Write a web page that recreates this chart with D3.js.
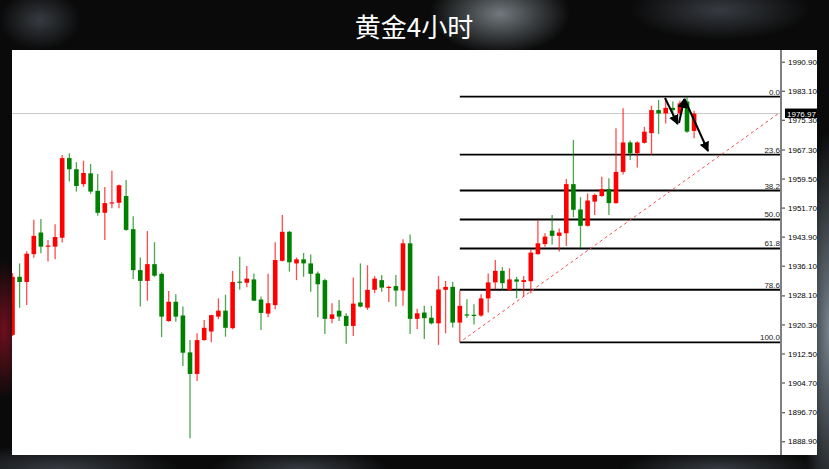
<!DOCTYPE html>
<html><head><meta charset="utf-8">
<script src="https://cdn.jsdelivr.net/npm/d3@7"></script>
<style>html,body{margin:0;padding:0;background:#0b0b0b;overflow:hidden}</style>
</head><body><svg id="c" width="829" height="469"></svg>
<script>
const title = "黄金4小时";
const opens = [1917.5,1933.1,1931.7,1939.2,1945.0,1941.2,1941.2,1943.6,1965.0,1962.0,1958.0,1960.9,1956.2,1950.3,1952.8,1953.0,1954.8,1945.9,1934.9,1932.0,1936.5,1933.9,1921.2,1926.4,1922.7,1912.8,1907.0,1916.1,1918.4,1922.4,1924.0,1919.3,1931.8,1931.5,1932.4,1927.0,1923.2,1925.5,1937.4,1945.2,1936.7,1937.8,1936.7,1934.0,1932.2,1921.8,1924.0,1922.6,1919.9,1926.2,1924.8,1929.6,1932.2,1930.2,1930.6,1929.4,1942.1,1921.8,1923.5,1922.1,1920.6,1929.6,1930.4,1920.8,1923.0,1922.9,1922.7,1927.3,1931.6,1934.7,1929.5,1932.4,1931.7,1931.9,1939.2,1941.9,1945.5,1944.1,1944.8,1958.0,1951.2,1946.8,1953.3,1954.8,1956.7,1952.9,1961.3,1969.2,1966.3,1969.1,1971.7,1977.9,1977.0,1978.5,1977.0,1980.2,1972.3];
const highs = [1934.1,1936.7,1940.0,1948.4,1948.6,1943.0,1947.2,1965.8,1966.3,1963.9,1964.3,1963.4,1960.7,1957.2,1961.6,1957.9,1959.1,1949.4,1938.3,1945.4,1942.4,1934.3,1929.3,1928.4,1925.1,1916.1,1917.9,1921.5,1922.9,1927.3,1928.3,1934.7,1938.5,1936.0,1934.0,1927.8,1933.9,1942.4,1949.7,1945.4,1938.3,1939.5,1939.1,1934.5,1932.6,1926.0,1926.9,1923.3,1932.9,1936.7,1936.2,1933.3,1933.6,1930.7,1933.6,1943.2,1944.5,1924.5,1925.3,1925.3,1933.3,1932.0,1931.8,1929.4,1927.1,1925.7,1928.4,1934.0,1937.6,1935.7,1935.4,1933.1,1933.3,1940.5,1948.2,1944.8,1949.7,1946.1,1959.4,1969.9,1954.5,1955.5,1955.5,1960.0,1959.6,1973.0,1978.4,1969.7,1969.5,1973.4,1979.1,1980.6,1981.1,1980.2,1980.4,1981.5,1977.7];
const lows = [1917.2,1924.8,1925.5,1938.2,1939.4,1937.2,1937.8,1942.3,1958.7,1956.0,1957.3,1955.4,1949.5,1943.0,1951.5,1951.5,1945.5,1932.5,1925.1,1926.7,1933.1,1916.9,1921.0,1921.0,1909.1,1889.7,1905.1,1915.9,1915.5,1921.7,1917.0,1919.0,1929.6,1930.3,1926.6,1918.8,1922.2,1924.4,1937.2,1934.5,1932.2,1933.1,1929.1,1922.2,1917.7,1920.6,1921.2,1915.1,1917.2,1924.9,1924.2,1928.7,1929.1,1926.3,1925.1,1925.3,1917.7,1919.1,1916.4,1920.3,1914.8,1917.9,1919.5,1915.5,1922.0,1920.3,1922.4,1923.5,1929.7,1929.6,1929.4,1927.3,1927.8,1928.7,1939.0,1941.2,1941.8,1939.9,1941.4,1949.1,1940.8,1946.6,1949.7,1954.6,1949.7,1952.7,1960.6,1964.5,1962.5,1968.9,1965.8,1971.5,1974.3,1975.2,1976.6,1971.8,1970.3];
const closes = [1933.1,1931.7,1939.3,1944.1,1941.2,1941.5,1943.8,1965.0,1962.0,1957.5,1961.0,1956.0,1950.3,1952.9,1953.1,1957.7,1945.7,1934.9,1932.0,1936.5,1933.4,1922.4,1926.4,1922.4,1912.7,1907.0,1916.1,1919.4,1922.8,1924.0,1919.4,1931.7,1931.6,1932.6,1926.7,1923.4,1926.0,1937.6,1945.2,1937.0,1937.8,1936.7,1933.9,1931.1,1921.8,1923.0,1922.4,1919.9,1925.9,1925.1,1929.6,1932.6,1930.2,1930.4,1929.4,1942.1,1921.8,1923.3,1922.0,1920.6,1929.7,1930.4,1920.8,1925.3,1922.8,1922.7,1927.3,1931.6,1934.7,1931.4,1932.4,1931.8,1932.2,1939.6,1942.1,1943.9,1944.1,1945.0,1958.0,1951.1,1946.8,1953.6,1955.1,1956.7,1952.9,1961.3,1969.2,1966.3,1969.2,1972.1,1977.9,1977.0,1978.5,1977.9,1979.7,1972.1,1976.97];
const tickValues = [1990.90,1983.10,1975.30,1967.30,1959.50,1951.70,1943.90,1936.10,1928.10,1920.30,1912.50,1904.70,1896.70,1888.90];
const currentPrice = 1976.97;
const fibLevels = [0,23.6,38.2,50.0,61.8,78.6,100.0];
const fibHigh = 1981.5, fibLow = 1915.5, fibStartIndex = 63;
const trendLine = [[63.5,1916.2],[108.2,1977.4]];
const arrows = [[[91.9,1981.15],[93.69,1974.16]],[[93.87,1974.43],[94.62,1980.88]],[[94.65,1980.88],[97.96,1966.91]]];

const svg = d3.select("#c");
const W = 829, H = 469;
const plot = {left:12, right:817, top:50, bottom:455, axisX:781};

// background
const defs = svg.append("defs");
function rg(id, stops){ const g = defs.append("radialGradient").attr("id",id);
  stops.forEach(s=>g.append("stop").attr("offset",s[0]).attr("stop-color",s[1]).attr("stop-opacity",s[2])); }
rg("glow1",[["0%","#7d858a",0.9],["100%","#7d858a",0]]);
rg("glow2",[["0%","#4a5058",0.7],["100%","#4a5058",0]]);
rg("glowRed",[["0%","#7a1020",0.9],["100%","#7a1020",0]]);
rg("glowRight",[["0%","#7c8994",0.95],["100%","#7c8994",0]]);
svg.append("rect").attr("width",W).attr("height",H).attr("fill","#0a0a0a");
svg.append("ellipse").attr("cx",500).attr("cy",14).attr("rx",70).attr("ry",40).attr("fill","url(#glow1)");
svg.append("ellipse").attr("cx",40).attr("cy",20).attr("rx",40).attr("ry",30).attr("fill","url(#glow2)");
svg.append("ellipse").attr("cx",720).attr("cy",10).attr("rx",90).attr("ry",30).attr("fill","url(#glow2)");
svg.append("ellipse").attr("cx",4).attr("cy",330).attr("rx",20).attr("ry",70).attr("fill","url(#glowRed)");
svg.append("ellipse").attr("cx",829).attr("cy",330).attr("rx",30).attr("ry",200).attr("fill","url(#glowRight)");
svg.append("ellipse").attr("cx",60).attr("cy",469).attr("rx",120).attr("ry",25).attr("fill","url(#glow2)");
svg.append("ellipse").attr("cx",300).attr("cy",469).attr("rx",90).attr("ry",20).attr("fill","url(#glow2)");
svg.append("ellipse").attr("cx",720).attr("cy",469).attr("rx",100).attr("ry",20).attr("fill","url(#glow2)");

svg.append("text").attr("x",414).attr("y",37).attr("text-anchor","middle")
  .attr("font-family","'Noto Sans CJK SC', sans-serif").attr("font-size",26).attr("fill","#ffffff").text(title);

svg.append("rect").attr("x",plot.left).attr("y",plot.top).attr("width",plot.right-plot.left).attr("height",plot.bottom-plot.top).attr("fill","#ffffff");

const x = d3.scaleLinear().domain([0,96]).range([12.5,694.1]);
const y = d3.scaleLinear().domain([1888.9,1990.9]).range([441.3,61.7]);

defs.append("clipPath").attr("id","clip").append("rect").attr("x",plot.left).attr("y",plot.top).attr("width",plot.axisX-plot.left).attr("height",plot.bottom-plot.top);
const g = svg.append("g").attr("clip-path","url(#clip)");

// current price line
g.append("line").attr("x1",plot.left).attr("x2",plot.axisX).attr("y1",y(currentPrice)).attr("y2",y(currentPrice)).attr("stroke","#c8c8c8").attr("stroke-width",1);

// fib lines
const fg = g.append("g");
fibLevels.forEach(l=>{
  const p = fibHigh - (fibHigh-fibLow)*l/100;
  fg.append("line").attr("x1",x(fibStartIndex)).attr("x2",plot.axisX).attr("y1",y(p)).attr("y2",y(p)).attr("stroke","#000").attr("stroke-width",1.8);
  fg.append("text").attr("x",plot.axisX-1).attr("y",y(p)-2).attr("text-anchor","end")
    .attr("font-family","'Liberation Sans', Arial, sans-serif").attr("font-size",8).attr("fill","#222").text(d3.format(".1f")(l));
});

// trend line
g.append("line").attr("x1",x(trendLine[0][0])).attr("y1",y(trendLine[0][1])).attr("x2",x(trendLine[1][0])).attr("y2",y(trendLine[1][1]))
  .attr("stroke","#f05050").attr("stroke-width",1).attr("stroke-dasharray","3,3");

// candles
const data = opens.map((o,i)=>({i,o,h:highs[i],l:lows[i],c:closes[i]}));
const red="#ff0000", green="#008000";
const cg = g.append("g");
data.forEach(d=>{
  const col = d.c>=d.o?red:green;
  cg.append("line").attr("x1",x(d.i)).attr("x2",x(d.i)).attr("y1",y(d.h)).attr("y2",y(d.l)).attr("stroke",col).attr("stroke-width",1.3).attr("stroke-opacity",0.7);
  const top = y(Math.max(d.o,d.c)), bot = y(Math.min(d.o,d.c));
  cg.append("rect").attr("x",x(d.i)-2.3).attr("width",4.6).attr("y",top).attr("height",Math.max(1.2,bot-top)).attr("fill",col);
});

// arrows
defs.append("marker").attr("id","ah").attr("viewBox","0 0 10 10").attr("refX",9).attr("refY",5)
  .attr("markerWidth",5).attr("markerHeight",5).attr("orient","auto")
  .append("path").attr("d","M0,0 L10,5 L0,10 z").attr("fill","#000");
arrows.forEach(a=>{
  g.append("line").attr("x1",x(a[0][0])).attr("y1",y(a[0][1])).attr("x2",x(a[1][0])).attr("y2",y(a[1][1]))
    .attr("stroke","#000").attr("stroke-width",2).attr("marker-end","url(#ah)");
});

// axis
svg.append("line").attr("x1",plot.axisX).attr("x2",plot.axisX).attr("y1",plot.top).attr("y2",plot.bottom).attr("stroke","#808080").attr("stroke-width",2);
const ax = svg.append("g").attr("transform",`translate(${plot.axisX+1},0)`)
  .call(d3.axisRight(y).tickValues(tickValues).tickFormat(d3.format(".2f")).tickSize(3).tickPadding(3));
ax.select(".domain").remove();
ax.selectAll("text").attr("font-family","'Liberation Sans', Arial, sans-serif").attr("font-size",8).attr("fill","#000");
ax.selectAll("line").attr("stroke","#333");

// current price box
const cp = svg.append("g");
cp.append("rect").attr("x",785).attr("y",y(currentPrice)-5).attr("width",32).attr("height",9.5).attr("fill","#000");
cp.append("text").attr("x",787).attr("y",y(currentPrice)+3).attr("font-family","'Liberation Sans', Arial, sans-serif").attr("font-size",8).attr("fill","#fff").text(d3.format(".2f")(currentPrice));
</script></body></html>
